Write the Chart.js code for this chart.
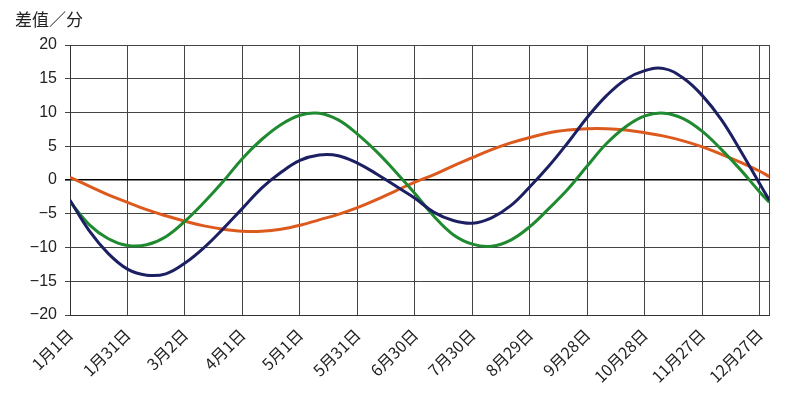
<!DOCTYPE html>
<html>
<head>
<meta charset="utf-8">
<script src="https://cdn.jsdelivr.net/npm/chart.js@4.4.1/dist/chart.umd.min.js"></script>
<style>
  body { margin: 0; background: #fff; }
</style>
</head>
<body>
<canvas id="chart" width="793" height="399"></canvas>
<script>
// 日序（1月1日 = 0），每10天读一个点
const days = [0, 10, 20, 30, 40, 50, 60, 70, 80, 90, 100, 110, 120, 130, 140, 150, 160, 170, 180,
  190, 200, 210, 220, 230, 240, 250, 260, 270, 280, 290, 300, 310, 320, 330, 340, 350, 360, 365];

// 合计（深蓝）
const totalVals = [-3.0, -7.5, -10.9, -13.2, -14.1, -13.9, -12.3, -10.0, -7.2, -4.2, -1.2, 1.1, 2.9, 3.7, 3.6, 2.5, 0.9, -0.9, -2.7,
  -4.8, -6.0, -6.4, -5.6, -3.8, -1.0, 2.1, 5.6, 9.3, 12.5, 14.9, 16.2, 16.5, 15.1, 12.5, 8.9, 4.3, -0.6, -3.0];

// 黄赤交角影响（绿）
const obliquityVals = [-3.2, -6.6, -8.7, -9.7, -9.6, -8.4, -6.1, -3.3, -0.2, 3.2, 6.0, 8.2, 9.6, 9.9, 8.9, 6.8, 4.2, 1.2, -2.0,
  -5.4, -8.1, -9.5, -9.8, -8.9, -6.9, -4.2, -1.3, 2.1, 5.4, 7.9, 9.5, 9.9, 9.1, 7.2, 4.5, 1.5, -1.8, -3.3];

// 轨道偏心影响（橙）
const eccentricityVals = [0.4, -0.9, -2.2, -3.3, -4.4, -5.3, -6.1, -6.8, -7.3, -7.6, -7.6, -7.3, -6.7, -5.9, -5.1, -4.1, -2.9, -1.6, -0.3,
  0.8, 2.1, 3.3, 4.5, 5.5, 6.3, 7.0, 7.4, 7.6, 7.6, 7.4, 7.0, 6.5, 5.8, 4.9, 3.8, 2.6, 1.3, 0.5];

// x轴刻度
const tickDays = [0, 30, 60, 90, 120, 150, 180, 210, 240, 270, 300, 330, 360];
const tickLabels = ['1月1日', '1月31日', '3月2日', '4月1日', '5月1日', '5月31日', '6月30日',
  '7月30日', '8月29日', '9月28日', '10月28日', '11月27日', '12月27日'];
const yearEnd = 365;

function toPoints(vals) {
  return days.map((d, i) => ({ x: d, y: vals[i] }));
}

// 左上角的单位文字
const unitLabel = {
  id: 'unitLabel',
  afterDraw(chart) {
    const ctx = chart.ctx;
    ctx.save();
    ctx.font = '17px "Noto Sans CJK SC"';
    ctx.fillStyle = '#222';
    ctx.textBaseline = 'middle';
    ctx.fillText('差值／分', 15, 20);
    ctx.restore();
  }
};

new Chart(document.getElementById('chart'), {
  type: 'line',
  data: {
    datasets: [
      { data: toPoints(totalVals), borderColor: '#1c2062', borderWidth: 3 },
      { data: toPoints(obliquityVals), borderColor: '#208a30', borderWidth: 3 },
      { data: toPoints(eccentricityVals), borderColor: '#dc5a1e', borderWidth: 3 }
    ]
  },
  options: {
    responsive: false,
    animation: false,
    layout: { padding: { top: 45, right: 23, left: 0, bottom: 0 } },
    elements: { point: { radius: 0 }, line: { tension: 0.4 } },
    plugins: { legend: { display: false }, tooltip: { enabled: false } },
    scales: {
      x: {
        type: 'linear',
        min: 0,
        max: yearEnd,
        afterBuildTicks(scale) {
          scale.ticks = tickDays.concat([yearEnd]).map(v => ({ value: v }));
        },
        afterFit(scale) { scale.height = 84; },
        grid: { color: '#444', lineWidth: 1, drawTicks: false },
        border: { color: '#333' },
        ticks: {
          autoSkip: false,
          maxRotation: 45,
          minRotation: 45,
          padding: 10,
          color: '#222',
          font: { family: '"Noto Sans CJK SC"', size: 16 },
          callback(v) {
            const i = tickDays.indexOf(v);
            return i >= 0 ? tickLabels[i] : '';
          }
        }
      },
      y: {
        min: -20,
        max: 20,
        afterFit(scale) { scale.width = 70; },
        grid: {
          color: ctx => ctx.tick && ctx.tick.value === 0 ? '#000' : '#444',
          lineWidth: ctx => ctx.tick && ctx.tick.value === 0 ? 1.6 : 1,
          tickLength: 5
        },
        border: { color: '#333' },
        ticks: {
          stepSize: 5,
          padding: 8,
          color: '#222',
          font: { family: '"Liberation Sans"', size: 16 },
          callback: v => String(v).replace('-', '−')
        }
      }
    }
  },
  plugins: [unitLabel]
});
</script>
</body>
</html>
